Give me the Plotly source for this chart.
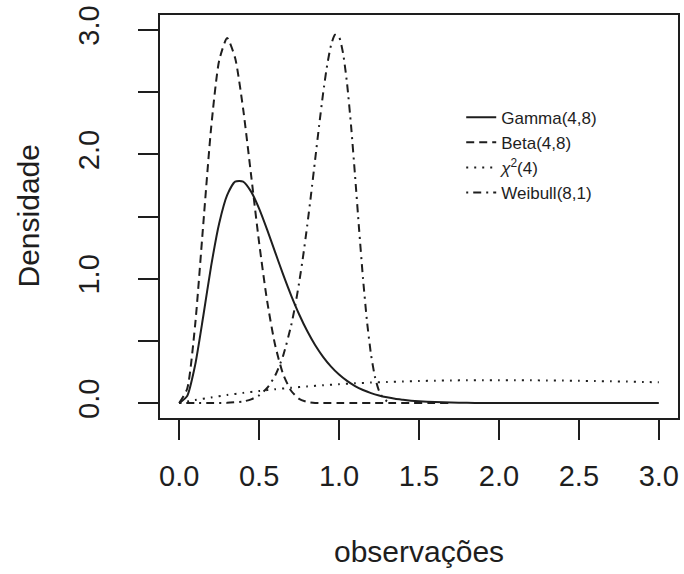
import plotly.graph_objects as go

# ---- data (densities) ----
gamma_x = [0.0, 0.05, 0.10, 0.15, 0.20, 0.25, 0.30, 0.35, 0.40, 0.45, 0.50, 0.55, 0.60, 0.65,
           0.70, 0.75, 0.80, 0.85, 0.90, 0.95, 1.00, 1.05, 1.10, 1.15, 1.20, 1.25, 1.30, 1.35,
           1.40, 1.45, 1.50, 1.60, 1.70, 1.80, 1.90, 2.00, 2.50, 3.00]
gamma_y = [0.0, 0.057, 0.307, 0.694, 1.103, 1.444, 1.672, 1.780, 1.781, 1.700, 1.563, 1.394,
           1.214, 1.034, 0.866, 0.714, 0.581, 0.467, 0.372, 0.293, 0.229, 0.178, 0.137, 0.105,
           0.080, 0.061, 0.046, 0.034, 0.026, 0.019, 0.014, 0.008, 0.004, 0.002, 0.001, 0.0006,
           0.0, 0.0]

beta_x = [0.0, 0.05, 0.10, 0.15, 0.20, 0.25, 0.30, 0.35, 0.40, 0.45, 0.50, 0.55, 0.60, 0.65,
          0.70, 0.75, 0.80, 0.85, 0.90, 0.95, 1.00, 1.70]
beta_y = [0.0, 0.115, 0.631, 1.428, 2.215, 2.753, 2.935, 2.774, 2.365, 1.831, 1.289, 0.821,
          0.467, 0.233, 0.099, 0.034, 0.009, 0.001, 0.0, 0.0, 0.0, 0.0]

chi_x = [0.0, 0.1, 0.2, 0.3, 0.4, 0.5, 0.6, 0.7, 0.8, 0.9, 1.0, 1.1, 1.2, 1.3, 1.4, 1.5, 1.6,
         1.7, 1.8, 1.9, 2.0, 2.1, 2.2, 2.3, 2.4, 2.5, 2.6, 2.7, 2.8, 2.9, 3.0]
chi_y = [0.0, 0.024, 0.045, 0.065, 0.082, 0.097, 0.111, 0.123, 0.134, 0.143, 0.152, 0.159,
         0.165, 0.170, 0.174, 0.177, 0.180, 0.182, 0.183, 0.184, 0.184, 0.184, 0.183, 0.182,
         0.181, 0.179, 0.177, 0.175, 0.173, 0.170, 0.167]

weib_x = [0.0, 0.10, 0.20, 0.30, 0.40, 0.45, 0.50, 0.55, 0.60, 0.65, 0.70, 0.725, 0.75, 0.775,
          0.80, 0.825, 0.85, 0.875, 0.90, 0.925, 0.95, 0.975, 1.00, 1.025, 1.05, 1.075, 1.10,
          1.125, 1.15, 1.175, 1.20, 1.225, 1.25, 1.275, 1.30]
weib_y = [0.0, 0.0, 0.0001, 0.0018, 0.013, 0.030, 0.062, 0.121, 0.220, 0.380, 0.622, 0.780,
          0.966, 1.179, 1.419, 1.679, 1.953, 2.228, 2.488, 2.712, 2.878, 2.961, 2.943, 2.812,
          2.569, 2.231, 1.828, 1.402, 0.999, 0.654, 0.389, 0.208, 0.098, 0.041, 0.014]

series_names = ["Gamma(4,8)", "Beta(4,8)", "<i>χ</i><sup>2</sup>(4)", "Weibull(8,1)"]

x_tickvals = [0.0, 0.5, 1.0, 1.5, 2.0, 2.5, 3.0]
x_ticktext = ["0.0", "0.5", "1.0", "1.5", "2.0", "2.5", "3.0"]
y_tickvals = [0.0, 1.0, 2.0, 3.0]
y_ticktext = ["0.0", "1.0", "2.0", "3.0"]
y_minor_tickvals = [0.5, 1.5, 2.5]

x_title = "observações"
y_title = "Densidade"

# ---- styling ----
INK = "#1e1e1e"
FONT = "Liberation Sans, Arial, Helvetica, sans-serif"
dashes = ["solid", "8px,5px", "2px,6px", "2px,5px,8px,5px"]
xs = [gamma_x, beta_x, chi_x, weib_x]
ys = [gamma_y, beta_y, chi_y, weib_y]

fig = go.Figure()
for name, x, y, d in zip(series_names, xs, ys, dashes):
    fig.add_trace(go.Scatter(
        x=x, y=y, mode="lines", name=name,
        line=dict(color=INK, width=2, dash=d, shape="spline", smoothing=0.6),
    ))

axis_common = dict(
    showline=True, linecolor=INK, linewidth=2, mirror=True,
    ticks="outside", ticklen=20, tickwidth=2, tickcolor=INK,
    showgrid=False, zeroline=False, automargin=False,
    tickfont=dict(family=FONT, size=29, color=INK),
    range=[-0.12, 3.12],
)

fig.update_layout(
    width=684, height=574,
    margin=dict(l=160, r=6, t=15, b=156),
    paper_bgcolor="white", plot_bgcolor="white",
    font=dict(family=FONT, color=INK),
    xaxis=dict(**axis_common, tickmode="array", tickvals=x_tickvals, ticktext=x_ticktext,
               ticklabelstandoff=11),
    yaxis=dict(**axis_common, tickmode="array", tickvals=y_tickvals, ticktext=y_ticktext,
               tickangle=-90, ticklabelstandoff=27,
               minor=dict(tickmode="array", tickvals=y_minor_tickvals, ticks="outside",
                          ticklen=20, tickwidth=2, tickcolor=INK, showgrid=False)),
    showlegend=True,
    legend=dict(
        x=0.5815, y=0.79, xanchor="left", yanchor="top",
        bgcolor="rgba(0,0,0,0)", borderwidth=0,
        font=dict(family=FONT, size=17, color=INK),
        tracegroupgap=0,
    ),
    annotations=[
        dict(text=x_title, x=0.5, y=0, xref="paper", yref="paper",
             xanchor="center", yanchor="middle", yshift=-133, showarrow=False,
             font=dict(family=FONT, size=30, color=INK)),
        dict(text=y_title, x=0, y=0.5, xref="paper", yref="paper",
             xanchor="center", yanchor="middle", xshift=-132, textangle=-90,
             showarrow=False, font=dict(family=FONT, size=30, color=INK)),
    ],
)

# remove the browser's default 8px body margin so the figure sits at the page origin
fig.write_html(
    "out.html",
    config={"displayModeBar": False},
    post_script="document.documentElement.style.overflow='hidden';"
                "document.body.style.margin='0';document.body.style.overflow='hidden';",
)
